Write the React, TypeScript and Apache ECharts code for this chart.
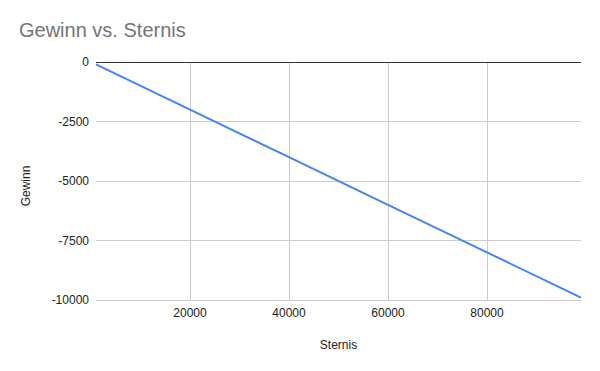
import React, { useEffect, useRef } from "react";
import * as echarts from "echarts";

const titleText = "Gewinn vs. Sternis";
const xName = "Sternis";
const yName = "Gewinn";
const sternis = [1000, 20000, 40000, 60000, 80000, 99000];
const gewinn = [-100, -2000, -4000, -6000, -8000, -9900];
const xTicks = [20000, 40000, 60000, 80000];
const yTicks = [0, -2500, -5000, -7500, -10000];

const FONT = "'Liberation Sans', Arial, sans-serif";

export default function App() {
  const ref = useRef<HTMLDivElement>(null);
  useEffect(() => {
    if (!ref.current) return;
    const chart = echarts.init(ref.current, undefined, { renderer: "svg" });
    chart.setOption({
      animation: false,
      backgroundColor: "#ffffff",
      textStyle: { fontFamily: FONT },
      title: {
        text: titleText,
        left: 14,
        top: 15,
        textStyle: { fontSize: 20, fontWeight: "normal", color: "#757575", fontFamily: FONT },
      },
      grid: { left: 96, right: 19, top: 62, bottom: 71, containLabel: false },
      xAxis: {
        type: "value",
        min: 1000,
        max: 99000,
        axisLine: { show: false, onZero: false },
        axisTick: { show: false, customValues: xTicks },
        axisLabel: {
          customValues: xTicks,
          formatter: (v: number) => String(v),
          color: "#222",
          fontSize: 12,
          margin: 7,
          fontFamily: FONT,
        },
        splitLine: { show: true, lineStyle: { color: "#cccccc", width: 1 } },
      },
      yAxis: {
        type: "value",
        min: -10000,
        max: 0,
        interval: 2500,
        axisLine: { show: false },
        axisTick: { show: false },
        axisLabel: {
          formatter: (v: number) => String(v),
          color: "#222",
          fontSize: 12,
          margin: 7,
          fontFamily: FONT,
        },
        splitLine: { show: true, lineStyle: { color: "#cccccc", width: 1 } },
      },
      graphic: [
        {
          type: "text",
          x: 26,
          y: 186,
          rotation: Math.PI / 2,
          style: {
            text: yName,
            fill: "#222",
            font: `12px ${FONT}`,
            textAlign: "center",
            textVerticalAlign: "middle",
          },
        },
        {
          type: "text",
          x: 338.5,
          y: 345,
          style: {
            text: xName,
            fill: "#222",
            font: `12px ${FONT}`,
            textAlign: "center",
            textVerticalAlign: "middle",
          },
        },
      ],
      series: [
        {
          type: "line",
          data: sternis.map((x, i) => [x, gewinn[i]]),
          showSymbol: false,
          symbol: "none",
          lineStyle: { color: "#4285F4", width: 2 },
          z: 3,
          markLine: {
            silent: true,
            symbol: "none",
            label: { show: false },
            lineStyle: { color: "#333333", width: 1, type: "solid" },
            data: [{ yAxis: yTicks[0] }],
            z: 2,
          },
        },
      ],
    });
    return () => chart.dispose();
  }, []);
  return <div ref={ref} style={{ width: 600, height: 371, position: "absolute", left: 0, top: 0 }} />;
}
